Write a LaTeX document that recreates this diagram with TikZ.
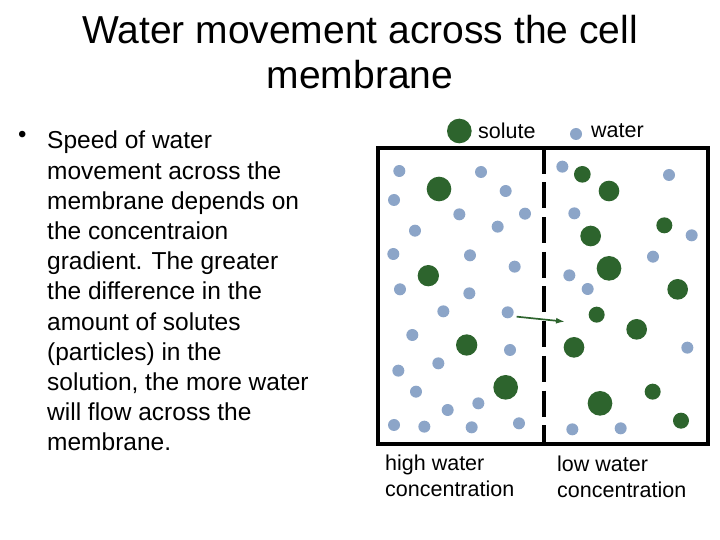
\documentclass[tikz,border=0pt]{standalone}
\usetikzlibrary{arrows.meta}
\usepackage{fontspec}
\setmainfont{Liberation Sans}
\definecolor{sol}{RGB}{45,100,45}
\definecolor{wat}{RGB}{140,165,200}
\begin{document}
\begin{tikzpicture}[x=1pt,y=-1pt,
  wd/.style={fill=wat},
  sd/.style={fill=sol},
  lab/.style={font=\fontsize{21.5}{26}\selectfont, anchor=west, align=left, inner sep=0}]
\useasboundingbox (0,0) rectangle (720,540);
\node[font=\fontsize{39}{45}\selectfont, align=center] (title) at (360,52) {Water movement across the cell\\membrane};
\node[font=\fontsize{24.5}{30.2}\selectfont, anchor=north west, align=left, inner sep=0] (txt) at (47,131)
 {Speed of water\\movement across the\\membrane depends on\\the concentraion\\gradient. The greater\\the difference in the\\amount of solutes\\(particles) in the\\solution, the more water\\will flow across the\\membrane.};
\node[font=\fontsize{24}{30}\selectfont, anchor=north west, inner sep=0] (bul) at (18,131) {•};
\begin{scope}[shift={(370,110)}, xscale=1/3, yscale=1/3]
 \draw[line width=4] (25,113) rectangle (1013,1003);
 \draw[line width=4, dash pattern=on 26 off 8.7] (522,113) -- (522,1003);
 \foreach \a/\b in {88/183,333/186,72/270,407/243,268/313,465/311,135/362,383/350,70/432,300/436,434/470,90/538,298/550,220/604,413/607,127/675,420/720,205/760,85/782,138/845,325/880,233/900,72/945,163/950,305/952,447/940,577/170,897/195,613/310,965/376,849/440,598/496,653/537,952/713,607/958,752/955,618/72}
   \fill[wd] (\a,\b) circle (18);
 \foreach \a/\b/\r in {207/237/37,175/497/32,290/705/32,407/832/37,717/243/31,662/378/31,717/475/37,923/538/31,800/658/31,612/712/31,690/880/37,637/193/25,883/346/24,680/614/24,848/845/24,933/932/24,268/63/37}
   \fill[sd] (\a,\b) circle (\r);
 \coordinate (a1) at (440,620);
 \coordinate (a2) at (585,635);
 \draw[sol, line width=1.7, -{Latex[length=9,width=6]}] (a1) -- (a2);
\end{scope}
\node[lab] (ls) at (478,131) {solute};
\node[lab] (lw) at (591,131) {water};
\node[lab] (lh) at (385,476) {high water\\concentration};
\node[lab] (ll) at (557,477) {low water\\concentration};
\end{tikzpicture}
\end{document}
